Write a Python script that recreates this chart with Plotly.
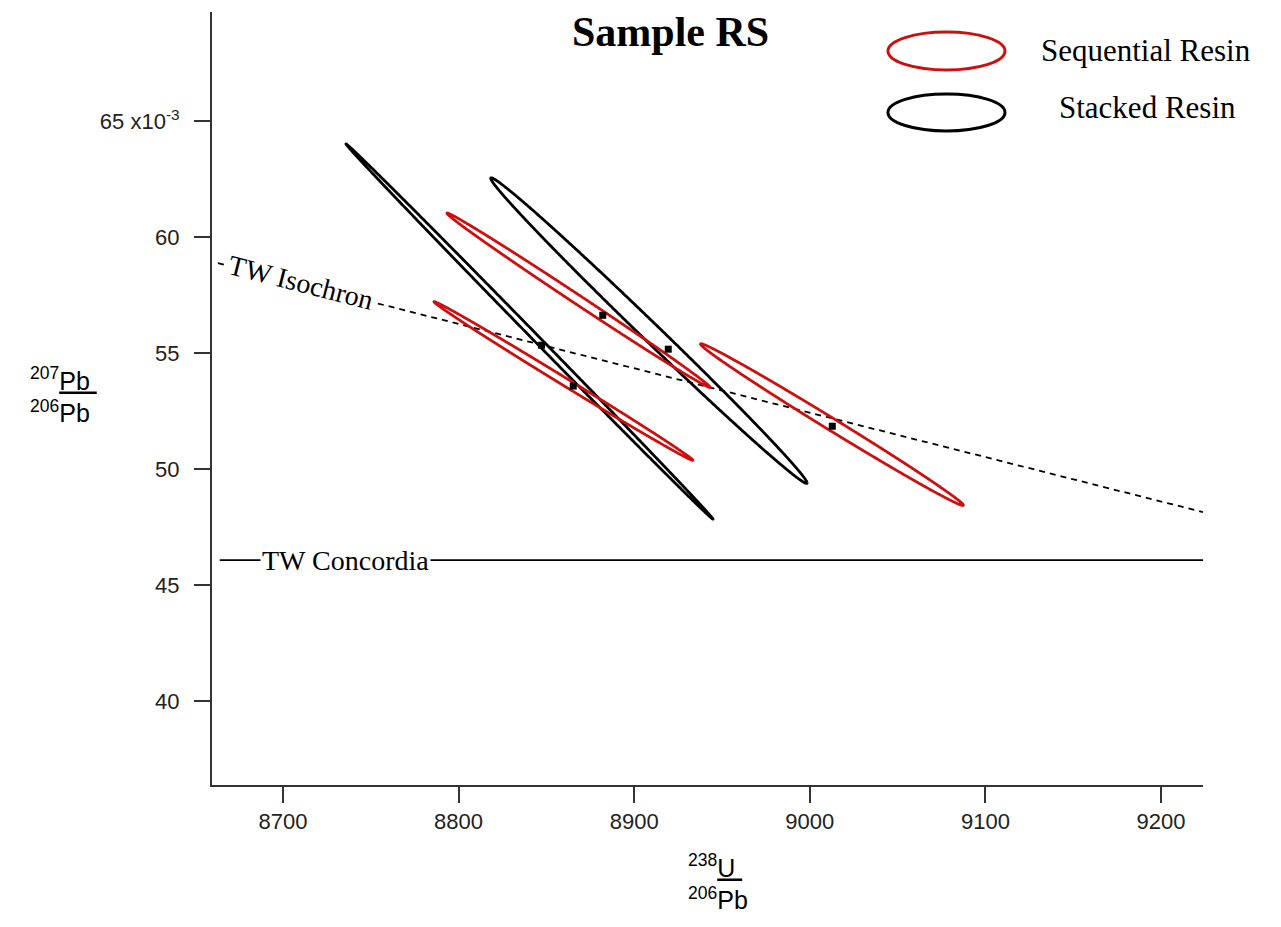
import numpy as np
import plotly.graph_objects as go

# error ellipses: centre, 2-sigma errors and error correlation
seq_cx = [8868.3, 8859.7, 9012.6]
seq_cy = [0.05728, 0.05380, 0.05192]
seq_sx = [74.95, 73.72, 74.85]
seq_sy = [0.003758, 0.003420, 0.003485]
seq_rho = [-0.99800, -0.99840, -0.99620]
seq_dot_x = [8882.1, 8865.3, 9012.8]
seq_dot_y = [0.05663, 0.05358, 0.05185]

stk_cx = [8840.4, 8908.4]
stk_cy = [0.05593, 0.05597]
stk_sx = [104.5, 90.08]
stk_sy = [0.008085, 0.006585]
stk_rho = [-0.99972, -0.99660]
stk_dot_x = [8847.3, 8919.4]
stk_dot_y = [0.05534, 0.05517]

isochron_x = [8663.0, 9223.9]
isochron_y = [0.05888, 0.04815]
concordia_x = [8664.0, 9223.9]
concordia_y = [0.04608, 0.04608]

ytick_vals = [0.040, 0.045, 0.050, 0.055, 0.060, 0.065]
ytick_text = ["40", "45", "50", "55", "60", "65 x10<sup>-3</sup>"]
xtick_vals = [8700, 8800, 8900, 9000, 9100, 9200]

SERIF = "Liberation Serif"
SANS = "Liberation Sans"
RED = "#cc1010"


def ellipse(cx, cy, sx, sy, rho):
    t = np.linspace(0, 2 * np.pi, 1200)
    x = cx + sx * np.cos(t)
    y = cy + sy * (rho * np.cos(t) + np.sqrt(1 - rho ** 2) * np.sin(t))
    return x, y


fig = go.Figure()

fig.add_trace(go.Scatter(x=concordia_x, y=concordia_y, mode="lines",
                         line=dict(color="black", width=1.8), hoverinfo="skip"))
fig.add_trace(go.Scatter(x=isochron_x, y=isochron_y, mode="lines",
                         line=dict(color="black", width=1.8, dash="6px,5px"), hoverinfo="skip"))

for i in range(len(stk_cx)):
    ex, ey = ellipse(stk_cx[i], stk_cy[i], stk_sx[i], stk_sy[i], stk_rho[i])
    fig.add_trace(go.Scatter(x=ex, y=ey, mode="lines",
                             line=dict(color="black", width=2.8, simplify=False)))

for i in range(len(seq_cx)):
    ex, ey = ellipse(seq_cx[i], seq_cy[i], seq_sx[i], seq_sy[i], seq_rho[i])
    fig.add_trace(go.Scatter(x=ex, y=ey, mode="lines",
                             line=dict(color=RED, width=2.8, simplify=False)))

fig.add_trace(go.Scatter(x=seq_dot_x + stk_dot_x, y=seq_dot_y + stk_dot_y, mode="markers",
                         marker=dict(symbol="square", size=7, color="black")))

# legend drawn by hand, ellipse symbols
fig.add_shape(type="circle", xref="paper", yref="paper", x0=0.6821, x1=0.8002, y0=0.9250, y1=0.9741,
              line=dict(color=RED, width=3))
fig.add_shape(type="circle", xref="paper", yref="paper", x0=0.6821, x1=0.8002, y0=0.8461, y1=0.8939,
              line=dict(color="black", width=3))

annots = [
    dict(text="Sequential Resin", x=0.9425, y=0.9508, font=dict(family=SERIF, size=31)),
    dict(text="Stacked Resin", x=0.9445, y=0.8771, font=dict(family=SERIF, size=31)),
    dict(text="<b>Sample RS</b>", x=0.4627, y=0.9741, font=dict(family=SERIF, size=42)),
    dict(text="<sup>207</sup><u>Pb </u><br><sup>206</sup>Pb", x=-0.150, y=0.5045,
         font=dict(family=SANS, size=25), align="left"),
    dict(text="<sup>238</sup><u>U </u><br><sup>206</sup>Pb", x=0.511, y=-0.126,
         font=dict(family=SANS, size=25), align="left"),
]
for a in annots:
    fig.add_annotation(xref="paper", yref="paper", showarrow=False, xanchor="center", yanchor="middle", **a)

fig.add_annotation(x=8710.3, y=0.05806, text="TW Isochron", textangle=14.2, showarrow=False,
                   bgcolor="white", font=dict(family=SERIF, size=28))
fig.add_annotation(x=8735.9, y=0.04608, text="TW Concordia", showarrow=False,
                   bgcolor="white", font=dict(family=SERIF, size=28))

fig.update_layout(
    width=1281, height=927,
    margin=dict(l=204, r=86, t=4, b=150),
    plot_bgcolor="white", paper_bgcolor="white",
    font=dict(color="black"),
    showlegend=False,
    xaxis=dict(range=[8659.6, 9223.9], tickvals=xtick_vals, showgrid=False, zeroline=False,
               showline=True, linecolor="#333333", linewidth=2, ticks="outside", ticklen=16,
               tickwidth=1.5, tickcolor="#333333", tickfont=dict(family=SANS, size=22, color="#222222")),
    yaxis=dict(range=[0.03639, 0.06970], tickvals=ytick_vals, ticktext=ytick_text, showgrid=False,
               zeroline=False, showline=True, linecolor="#333333", linewidth=2, ticks="outside",
               ticklen=16, tickwidth=1.5, tickcolor="#333333", ticklabelstandoff=10,
               tickfont=dict(family=SANS, size=22, color="#222222")),
)

fig.write_html("out.html")
